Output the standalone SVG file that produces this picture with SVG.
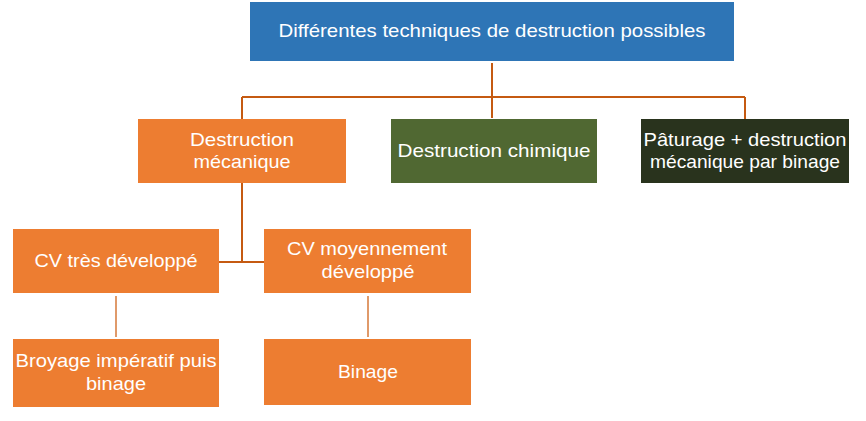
<svg xmlns="http://www.w3.org/2000/svg" width="866" height="421" viewBox="0 0 866 421">
<style>
text{font-family:"Liberation Sans","Open Sans",sans-serif;font-size:19px;fill:#ffffff;text-anchor:middle}
.c{stroke:#C55A11;stroke-width:2;fill:none}
.c2{stroke:#E09A6A;stroke-width:2;fill:none}
.o{fill:#ED7D31}
</style>
<rect width="866" height="421" fill="#ffffff"/>
<g id="connectors">
<path class="c" d="M492 63V97M242 97H745M242 97V119M492 97V118M745 97V119"/>
<path class="c" d="M242 183V262M219 262H264"/>
<path class="c2" d="M116 296V337M368 296V337"/>
</g>
<g id="root"><rect x="250" y="2" width="484" height="59" fill="#2E75B6"/><text x="492" y="37" textLength="427" lengthAdjust="spacingAndGlyphs">Différentes techniques de destruction possibles</text></g>
<g id="meca"><rect class="o" x="138" y="119" width="208" height="64"/><text x="242" y="146" textLength="104" lengthAdjust="spacingAndGlyphs">Destruction</text><text x="242" y="168" textLength="97" lengthAdjust="spacingAndGlyphs">mécanique</text></g>
<g id="chim"><rect x="391" y="119" width="206" height="64" fill="#506832"/><text x="494" y="157" textLength="193" lengthAdjust="spacingAndGlyphs">Destruction chimique</text></g>
<g id="patu"><rect x="641" y="119" width="208" height="64" fill="#29331D"/><text x="745" y="146" textLength="203" lengthAdjust="spacingAndGlyphs">Pâturage + destruction</text><text x="745" y="168" textLength="190" lengthAdjust="spacingAndGlyphs">mécanique par binage</text></g>
<g id="cvtres"><rect class="o" x="13" y="229" width="206" height="64"/><text x="116" y="267" textLength="163" lengthAdjust="spacingAndGlyphs">CV très développé</text></g>
<g id="cvmoy"><rect class="o" x="264" y="229" width="207" height="64"/><text x="367" y="255" textLength="160" lengthAdjust="spacingAndGlyphs">CV moyennement</text><text x="368" y="278" textLength="93" lengthAdjust="spacingAndGlyphs">développé</text></g>
<g id="broy"><rect class="o" x="13" y="339" width="206" height="68"/><text x="116" y="367" textLength="201" lengthAdjust="spacingAndGlyphs">Broyage impératif puis</text><text x="116" y="390" textLength="60" lengthAdjust="spacingAndGlyphs">binage</text></g>
<g id="bin"><rect class="o" x="264" y="339" width="207" height="66"/><text x="368" y="378" textLength="60" lengthAdjust="spacingAndGlyphs">Binage</text></g>
</svg>
